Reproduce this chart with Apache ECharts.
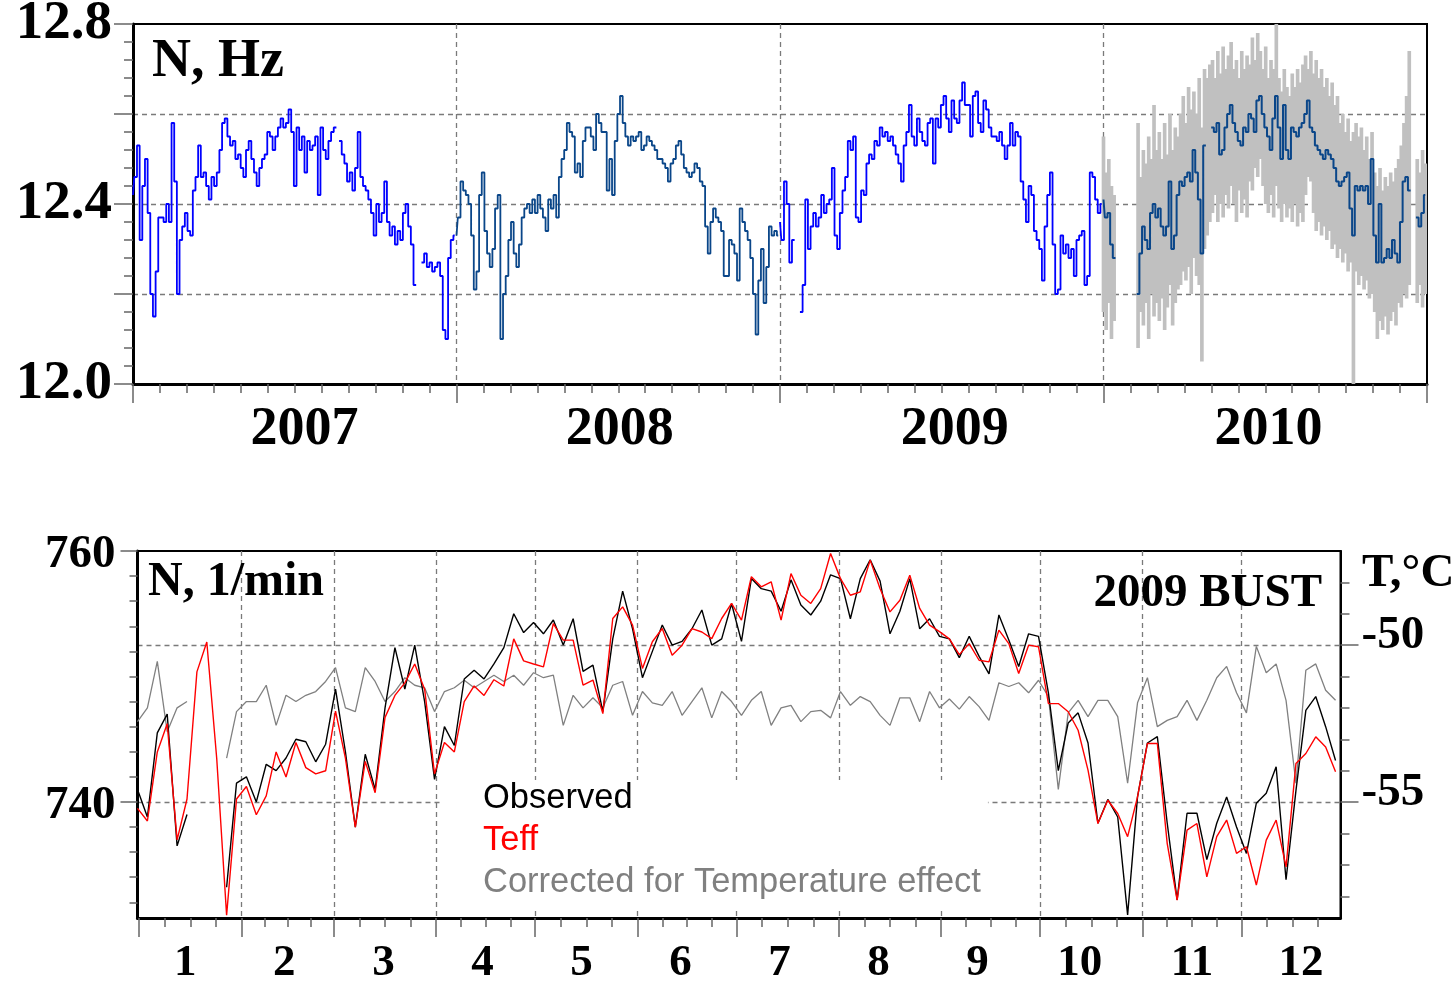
<!DOCTYPE html>
<html>
<head>
<meta charset="utf-8">
<script src="https://cdn.jsdelivr.net/npm/echarts@6/dist/echarts.min.js"></script>
<style>
  html, body { margin: 0; padding: 0; background: #fff; }
  #chart { width: 1455px; height: 983px; }
</style>
</head>
<body>
<div id="chart"></div>
<script>
// ---------- Upper panel: daily neutron rate N (Hz), one value every 3 days ----------
const STEP_DAYS = 3;
const yearLabels = ['2007', '2008', '2009', '2010'];
const yearLabelPos = [2007.53, 2008.505, 2009.54, 2010.51];

const n2007 = [12.42,12.46,12.53,12.32,12.44,12.50,12.38,12.20,12.15,12.25,
  12.37,12.37,12.36,12.40,12.36,12.58,12.45,12.20,12.32,12.35,
  12.38,12.34,12.33,12.43,12.46,12.53,12.46,12.47,12.44,12.41,
  12.46,12.44,12.47,12.52,12.58,12.59,12.55,12.53,12.54,12.50,
  12.51,12.48,12.46,12.52,12.54,12.50,12.47,12.44,12.48,12.50,
  12.51,12.56,12.55,12.52,12.55,12.57,12.59,12.57,12.58,12.61,
  12.56,12.44,12.57,12.52,12.55,12.47,12.54,12.52,12.53,12.55,
  12.42,12.57,12.52,12.50,12.54,12.56,12.57,null,12.54,12.51,
  12.49,12.45,12.47,12.43,12.48,12.56,12.46,12.44,12.43,12.41,
  12.38,12.33,12.40,12.36,12.38,12.45,12.36,12.33,12.35,12.31,
  12.34,12.32,12.38,12.40,12.35,12.31,12.22,null,null,12.27,
  12.29,12.26,12.27,12.25,12.26,12.27,12.24,12.12,12.10,12.28,
  12.32,12.33];

const n2008 = [12.33,12.37,12.45,12.43,12.42,12.40,12.33,12.21,12.25,12.42,
  12.47,12.34,12.29,12.26,12.30,12.39,12.42,12.10,12.20,12.24,
  12.32,12.36,12.29,12.26,12.31,12.37,12.39,12.40,12.38,12.41,
  12.38,12.42,12.39,12.37,12.34,12.41,12.39,12.42,12.37,12.46,
  12.50,12.52,12.58,12.56,12.55,12.47,12.49,12.46,12.54,12.57,
  12.57,12.55,12.52,12.60,12.58,12.56,12.56,12.43,12.50,12.42,
  12.54,12.60,12.64,12.58,12.55,12.53,12.55,12.54,12.55,12.56,
  12.52,12.53,12.55,12.54,12.53,12.52,12.50,12.50,12.49,12.48,
  12.45,12.49,12.50,12.53,12.54,12.51,12.48,12.47,12.46,12.47,
  12.49,12.48,12.45,12.44,12.35,12.29,12.36,12.39,12.37,12.36,
  12.34,12.24,12.24,12.32,12.31,12.29,12.23,12.39,12.36,12.34,
  12.32,12.28,12.20,12.11,12.23,12.30,12.18,12.26,12.35,12.33,
  12.34,12.33];

const n2009 = [12.36,12.32,12.45,12.40,12.27,12.32,null,null,12.16,12.22,
  12.41,12.30,12.35,12.38,12.35,12.37,12.42,12.38,12.40,12.41,
  12.48,12.33,12.30,12.38,12.43,12.46,12.54,12.52,12.55,12.37,
  12.36,12.43,12.42,12.49,12.51,12.50,12.54,12.53,12.57,12.55,
  12.56,12.54,12.55,12.53,12.51,12.49,12.45,12.53,12.56,12.62,
  12.55,12.53,12.59,12.56,12.54,12.53,12.58,12.59,12.49,12.59,
  12.57,12.62,12.64,12.59,12.56,12.63,12.59,12.58,12.63,12.67,
  12.62,12.62,12.55,12.64,12.65,12.58,12.56,12.63,12.61,12.57,
  12.55,12.55,12.54,12.56,12.53,12.50,12.53,12.58,12.53,12.56,
  12.55,12.45,12.41,12.36,12.44,12.42,12.34,12.32,12.30,12.23,
  12.35,12.42,12.47,12.31,12.20,12.21,12.33,12.29,12.31,12.28,
  12.30,12.24,12.32,12.33,12.34,12.22,12.24,12.47,12.46,12.41,
  12.38,12.40];

const n2010 = [12.41,12.37,12.38,12.31,12.28,null,null,null,null,null,
  null,null,null,12.20,12.29,12.35,12.32,12.30,12.38,12.40,
  12.37,12.39,12.35,12.33,12.35,12.45,12.30,12.33,12.42,12.45,
  12.44,12.46,12.47,12.45,12.52,12.47,12.41,12.29,12.53,null,
  null,12.57,12.56,12.58,12.51,12.52,12.57,12.60,12.62,12.58,
  12.56,12.54,12.53,12.57,12.56,12.60,12.59,12.56,12.63,12.64,
  12.60,12.57,12.55,12.52,12.59,12.64,12.57,12.50,12.62,12.52,
  12.50,12.57,12.56,12.55,12.57,12.58,12.60,12.63,12.57,12.56,
  12.53,12.52,12.51,12.50,12.52,12.51,12.50,12.48,12.45,12.44,
  12.45,12.46,12.47,12.39,12.33,12.44,12.43,12.44,12.43,12.44,
  12.40,12.50,12.33,12.27,12.40,12.27,12.28,12.30,12.28,12.32,
  12.29,12.27,12.36,12.45,12.46,12.43,null,null,12.37,12.35,
  12.38,12.42];

// 2010 spread of the individual counters (upper / lower envelope)
const hi2010 = [12.55,12.47,12.50,12.44,12.42,null,null,null,null,null,
  null,null,null,12.58,12.46,12.52,12.49,12.55,12.50,12.62,
  12.52,12.56,12.50,12.58,12.51,12.60,12.52,12.57,12.55,12.60,
  12.64,12.58,12.66,12.61,12.65,12.60,12.68,12.57,12.70,12.68,
  12.71,12.72,12.68,12.74,12.69,12.75,12.70,12.73,12.76,12.70,
  12.72,12.68,12.74,12.70,12.73,12.71,12.77,12.72,12.78,12.74,
  12.70,12.75,12.68,12.72,12.70,12.80,12.68,12.65,12.70,12.66,
  12.64,12.69,12.66,12.70,12.67,12.71,12.73,12.70,12.74,12.69,
  12.72,12.68,12.70,12.66,12.68,12.64,12.67,12.62,12.64,12.58,
  12.60,12.56,12.59,12.54,12.56,12.58,12.55,12.57,12.52,12.55,
  12.50,12.56,12.47,12.44,12.48,12.43,12.46,12.44,12.47,12.45,
  12.48,12.50,12.53,12.58,12.64,12.74,null,null,12.50,12.47,
  12.52,12.49];

const lo2010 = [12.16,12.12,12.18,12.10,12.14,null,null,null,null,null,
  null,null,null,12.08,12.16,12.13,12.18,12.10,12.20,12.15,
  12.18,12.14,12.19,12.12,12.17,12.22,12.13,12.18,12.21,12.22,
  12.25,12.23,12.26,12.20,12.28,12.24,12.22,12.05,12.30,12.33,
  12.36,12.38,12.42,12.36,12.40,12.37,12.42,12.39,12.44,12.40,
  12.36,12.43,12.38,12.41,12.37,12.45,12.43,12.48,12.46,12.50,
  12.44,12.40,12.38,12.42,12.37,12.44,12.39,12.36,12.40,12.37,
  12.39,12.36,12.40,12.35,12.38,12.36,12.42,12.46,12.45,12.38,
  12.34,12.36,12.33,12.35,12.32,12.34,12.30,12.31,12.28,12.30,
  12.27,12.29,12.25,12.27,12.00,12.25,12.22,12.24,12.21,12.23,
  12.19,12.20,12.16,12.10,12.14,12.12,12.15,12.11,12.14,12.16,
  12.13,12.18,12.17,12.20,12.19,12.22,null,null,12.18,12.22,
  12.17,12.20];

// ---------- Lower panel: 2009 BUST, one value every 3 days ----------
const monthLabels = ['1','2','3','4','5','6','7','8','9','10','11','12'];
const monthLabelPos = [15, 45, 75, 105, 135, 165, 195, 225, 255, 286, 320, 353];
const monthStarts = [1, 32, 60, 91, 121, 152, 182, 213, 244, 274, 305, 335, 366];

// Observed rate, 1/min
const observed = [741.0,738.8,745.5,747.0,736.5,739.0,null,null,null,733.2,
  741.5,742.0,740.0,743.0,742.5,743.5,745.0,744.8,743.2,744.6,
  749.0,744.0,738.0,743.8,741.0,747.5,752.3,749.0,752.5,748.0,
  741.8,746.0,744.5,749.8,750.5,749.8,751.0,752.3,755.0,753.5,
  754.3,753.4,754.5,752.5,754.6,750.4,750.9,747.2,753.0,756.8,
  753.8,749.9,752.0,754.1,752.5,752.8,753.8,755.3,752.5,753.0,
  755.8,752.8,757.8,757.0,756.8,755.2,757.7,755.7,754.9,756.0,
  758.1,757.8,754.6,757.8,759.3,757.6,753.4,755.2,757.8,753.8,
  754.6,753.2,753.0,751.5,753.2,751.6,750.2,754.9,752.9,750.8,
  753.4,753.2,748.7,742.5,746.3,747.1,744.7,738.3,740.2,738.8,
  731.0,740.4,744.7,745.2,738.3,732.2,739.1,739.1,735.4,738.3,
  740.4,738.0,735.9,739.9,740.7,742.8,733.8,740.9,747.3,748.4,
  746.0,743.3];

// Effective temperature, °C (right scale)
const teff = [-55.2,-55.6,-53.4,-52.5,-56.2,-54.9,-50.85,-49.9,-53.6,-58.6,
  -54.9,-54.5,-55.4,-54.8,-53.4,-54.2,-53.1,-53.9,-54.1,-54.0,
  -52.1,-53.6,-55.8,-53.7,-54.7,-52.3,-51.6,-51.2,-50.6,-51.4,
  -54.1,-53.1,-53.4,-51.8,-51.3,-51.6,-51.1,-51.3,-49.8,-50.5,
  -50.6,-50.69,-49.31,-49.84,-49.84,-51.27,-51.11,-52.18,-49.15,-48.78,
  -49.36,-50.74,-49.89,-49.47,-50.32,-50.0,-49.47,-49.58,-49.79,-49.15,
  -48.67,-49.2,-47.82,-48.14,-47.98,-49.2,-47.72,-48.41,-48.67,-48.2,
  -47.08,-47.88,-48.41,-48.3,-47.29,-48.2,-48.94,-48.57,-47.77,-48.83,
  -49.36,-49.57,-49.8,-50.3,-49.95,-50.48,-50.53,-49.52,-49.95,-50.9,
  -50.0,-50.05,-51.86,-51.86,-52.12,-52.71,-53.98,-55.68,-54.94,-55.36,
  -56.1,-54.83,-53.13,-53.13,-56.32,-58.12,-55.89,-55.68,-57.38,-56.1,
  -55.57,-56.63,-56.42,-57.64,-56.21,-55.57,-57.06,-53.77,-53.45,-52.92,
  -53.24,-54.03];

// Rate corrected for the temperature effect, 1/min
const corrected = [746.4,747.5,751.2,745.6,747.5,748.0,null,null,null,743.5,
  747.2,748.0,748.0,749.3,746.1,748.5,748.0,748.5,748.8,749.6,
  750.7,747.5,747.2,750.7,749.6,748.0,748.8,749.9,749.3,749.1,
  747.2,748.8,749.1,749.7,749.1,749.6,750.1,749.6,750.1,749.3,
  750.3,749.9,750.1,746.1,748.5,747.5,748.3,747.5,749.3,749.6,
  746.9,748.8,747.9,747.7,748.8,746.9,748.0,749.1,746.7,748.8,
  748.0,746.9,748.1,748.8,746.1,747.5,747.7,746.4,747.2,747.3,
  746.7,748.8,747.7,748.4,748.0,746.9,746.1,748.3,748.3,746.4,
  748.8,747.5,748.2,747.4,748.4,747.6,746.5,749.5,749.2,749.5,
  748.7,749.7,748.4,741.0,747.1,748.1,746.8,748.1,748.1,746.8,
  741.5,747.9,749.9,746.0,746.5,746.8,748.1,746.5,748.1,749.9,
  750.8,748.7,747.1,752.4,750.3,751.0,748.1,741.5,750.5,751.0,
  748.9,748.1];

// ---------- helpers building the series from the arrays ----------
const yearPairs = (year, vals) => vals.map((v, i) => [year + i * STEP_DAYS / 365, v]);
const dayPairs = vals => vals.map((v, i) => [0.5 + STEP_DAYS * i, v]);
const band2010 = hi2010.map((h, i) => [2010 + i * STEP_DAYS / 365, h, lo2010[i]]);

// quarter-month minor ticks on the lower time axis
const quarterTicks = [];
for (let m = 0; m < 12; m++) {
  const s = monthStarts[m], len = monthStarts[m + 1] - s;
  for (let k = 1; k < 4; k++) quarterTicks.push(s + len * k / 4);
}
const monthTicks = monthStarts.slice(0, 12);
const leftMinor = [];
for (let v = 732; v <= 760; v += 2) leftMinor.push(v);
const rightMinor = [];
for (let v = -58; v <= -48; v++) rightMinor.push(v);

const serif = '"Liberation Serif", "Times New Roman", serif';
const sans = '"Liberation Sans", Arial, sans-serif';
const dash = { color: '#7a7a7a', width: 1.3, type: [5, 4] };
const tickStyle = { color: '#666', width: 1.5 };
const bigLabel = (size, margin) => ({ fontSize: size, fontWeight: 'bold', fontFamily: serif, color: '#000', margin });

const lineSeries = (name, data, color, xi, yi, width, z, step) => ({
  name, type: 'line', data, xAxisIndex: xi, yAxisIndex: yi,
  showSymbol: false, symbol: 'none', connectNulls: false, step: step || false,
  lineStyle: { color, width }, itemStyle: { color }, z: z || 2
});

const chart = echarts.init(document.getElementById('chart'));
chart.setOption({
  animation: false,
  backgroundColor: '#fff',
  grid: [
    { left: 133, right: 28, top: 24, height: 360, show: true, borderColor: '#000', borderWidth: 2,
      containLabel: false, outerBoundsMode: 'none' },
    { left: 137.5, right: 114.5, top: 551, height: 367, show: true, borderColor: '#000', borderWidth: 2,
      containLabel: false, outerBoundsMode: 'none' }
  ],
  xAxis: [
    { gridIndex: 0, type: 'value', position: 'bottom', min: 2007, max: 2011, interval: 1,
      axisLine: { onZero: false, lineStyle: { color: '#000', width: 3 } },
      axisTick: { length: 19, lineStyle: tickStyle },
      minorTick: { show: true, splitNumber: 12, length: 9, lineStyle: tickStyle },
      splitLine: { show: true, showMinLine: false, showMaxLine: false, lineStyle: dash },
      axisLabel: Object.assign(bigLabel(54, 19), {
        customValues: yearLabelPos,
        formatter: v => yearLabels[yearLabelPos.indexOf(v)] })
    },
    { gridIndex: 1, type: 'value', position: 'bottom', min: 0.5, max: 365,
      axisLine: { onZero: false, lineStyle: { color: '#000', width: 3 } },
      axisTick: { customValues: monthTicks, length: 19, lineStyle: tickStyle },
      splitLine: { show: true, showMinLine: false, showMaxLine: true, lineStyle: dash },
      axisLabel: Object.assign(bigLabel(45, 23), {
        customValues: monthLabelPos,
        formatter: v => monthLabels[monthLabelPos.indexOf(v)] })
    },
    { gridIndex: 1, type: 'value', position: 'bottom', min: 0.5, max: 365,
      axisLine: { show: false, onZero: false },
      axisTick: { customValues: quarterTicks, length: 9, lineStyle: tickStyle },
      axisLabel: { show: false }, splitLine: { show: false }
    }
  ],
  yAxis: [
    { gridIndex: 0, type: 'value', position: 'left', min: 12, max: 12.8, interval: 0.2,
      axisLine: { onZero: false, lineStyle: { color: '#000', width: 3 } },
      axisTick: { length: 19, lineStyle: tickStyle },
      minorTick: { show: true, splitNumber: 5, length: 9, lineStyle: tickStyle },
      splitLine: { show: true, showMinLine: false, showMaxLine: false, lineStyle: dash },
      axisLabel: Object.assign(bigLabel(55, 21), {
        customValues: [12, 12.4, 12.8], formatter: v => v.toFixed(1) })
    },
    { gridIndex: 1, type: 'value', min: 730.75, max: 760, position: 'left',
      axisLine: { onZero: false, lineStyle: { color: '#000', width: 3 } },
      axisTick: { customValues: leftMinor, length: 8, lineStyle: tickStyle },
      axisLabel: { show: false }, splitLine: { show: false }
    },
    { gridIndex: 1, type: 'value', min: 730.75, max: 760, position: 'left',
      axisLine: { show: false, onZero: false },
      axisTick: { customValues: [740, 760], length: 17, lineStyle: tickStyle },
      axisLabel: Object.assign(bigLabel(47, 22), { customValues: [740, 760], verticalAlign: 'top', lineHeight: 8 }),
      splitLine: { show: false }
    },
    { gridIndex: 1, type: 'value', min: -58.69, max: -47.0, position: 'right',
      axisLine: { onZero: false, lineStyle: { color: '#000', width: 2 } },
      axisTick: { customValues: rightMinor, length: 9, lineStyle: tickStyle },
      axisLabel: { show: false }, splitLine: { show: false }
    },
    { gridIndex: 1, type: 'value', min: -58.69, max: -47.0, position: 'right',
      axisLine: { show: false, onZero: false },
      axisTick: { customValues: [-55, -50], length: 18, lineStyle: tickStyle },
      axisLabel: Object.assign(bigLabel(47, 21), { customValues: [-55, -50], verticalAlign: 'bottom', lineHeight: 18 }),
      splitLine: { show: true, lineStyle: dash }
    }
  ],
  legend: {
    data: [
      { name: 'Observed', textStyle: { color: '#000' } },
      { name: 'Teff', textStyle: { color: '#ff0000' } },
      { name: 'Corrected for Temperature effect', textStyle: { color: '#808080' } }
    ],
    orient: 'vertical', left: 443, top: 780,
    itemWidth: 0, itemHeight: 0, itemGap: 7,
    padding: [1, 7, 8, 34],
    backgroundColor: '#fff', selectedMode: false,
    itemStyle: { opacity: 0 }, lineStyle: { opacity: 0 },
    textStyle: { fontFamily: sans, fontSize: 34.5 }
  },
  graphic: [
    { type: 'text', x: 152, y: 62, z: 10,
      style: { text: 'N, Hz', font: 'bold 54px ' + serif, fill: '#000', align: 'left', verticalAlign: 'middle' } },
    { type: 'text', x: 148, y: 583, z: 10,
      style: { text: 'N, 1/min', font: 'bold 48px ' + serif, fill: '#000', align: 'left', verticalAlign: 'middle' } },
    { type: 'text', x: 1322, y: 594, z: 10,
      style: { text: '2009 BUST', font: 'bold 47px ' + serif, fill: '#000', align: 'right', verticalAlign: 'middle' } },
    { type: 'text', x: 1362, y: 574, z: 10,
      style: { text: 'T,°C', font: 'bold 47px ' + serif, fill: '#000', align: 'left', verticalAlign: 'middle' } }
  ],
  series: [
    lineSeries('N 2007', yearPairs(2007, n2007), '#0000ff', 0, 0, 1.8, 2, 'middle'),
    lineSeries('N 2008', yearPairs(2008, n2008), '#0a4689', 0, 0, 1.8, 2, 'middle'),
    lineSeries('N 2009', yearPairs(2009, n2009), '#0000ff', 0, 0, 1.8, 2, 'middle'),
    { name: 'Spread 2010', type: 'custom', xAxisIndex: 0, yAxisIndex: 0, z: 1,
      data: band2010, encode: { x: 0, y: [1, 2] },
      renderItem: (params, api) => {
        const hi = api.value(1), lo = api.value(2);
        if (isNaN(hi) || isNaN(lo)) return null;
        const x = api.value(0);
        const p1 = api.coord([x, hi]);
        const p2 = api.coord([x, lo]);
        const w = api.coord([x + STEP_DAYS / 365, hi])[0] - p1[0];
        return { type: 'rect',
                 shape: { x: p1[0] - w / 2 - 0.5, y: p1[1], width: w + 1, height: p2[1] - p1[1] },
                 style: { fill: '#c0c0c0', stroke: null } };
      } },
    lineSeries('N 2010', yearPairs(2010, n2010), '#0a4689', 0, 0, 2, 3, 'middle'),
    lineSeries('Corrected for Temperature effect', dayPairs(corrected), '#808080', 1, 1, 1.3),
    lineSeries('Observed', dayPairs(observed), '#000000', 1, 1, 1.4, 3),
    lineSeries('Teff', dayPairs(teff), '#ff0000', 1, 3, 1.4, 4)
  ]
});
</script>
</body>
</html>
